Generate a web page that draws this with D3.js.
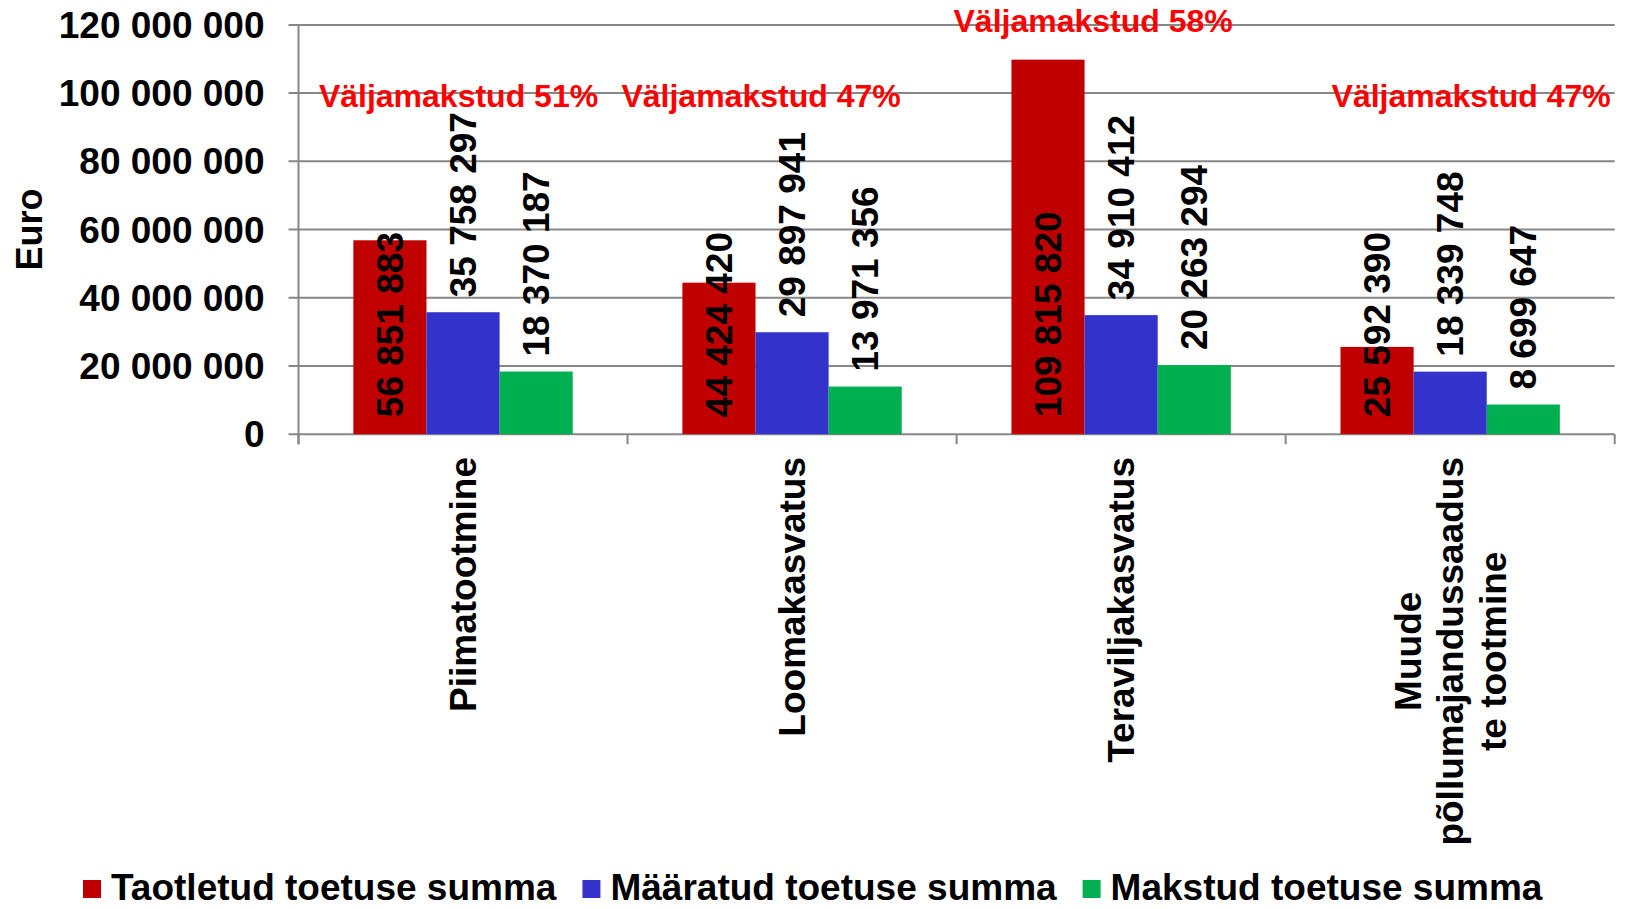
<!DOCTYPE html>
<html lang="et">

<head>
  <meta charset="UTF-8">
  <title>Toetuste summad</title>
  <script src="https://d3js.org/d3.v7.min.js"></script>
  <style>
    body { margin: 0; background: #fff; }
    text { font-family: "Liberation Sans", Arial, sans-serif; font-weight: bold; }
  </style>
</head>

<body>
  <script>
    // data
    const categories = ["Piimatootmine", "Loomakasvatus", "Teraviljakasvatus", "Muude põllumajandussaaduste tootmine"];
    const categoryLines = [["Piimatootmine"], ["Loomakasvatus"], ["Teraviljakasvatus"], ["Muude", "põllumajandussaadus", "te tootmine"]];
    const series = ["Taotletud toetuse summa", "Määratud toetuse summa", "Makstud toetuse summa"];
    const requested = [56851883, 44424420, 109815820, 25592390];
    const assigned = [35758297, 29897941, 34910412, 18339748];
    const paid = [18370187, 13971356, 20263294, 8699647];
    const paidShare = ["51%", "47%", "58%", "47%"];
    const yTicks = [0, 20000000, 40000000, 60000000, 80000000, 100000000, 120000000];
    const colors = ["#C00000", "#3333CC", "#00B050"];

    // layout of the red notes (text boxes in the original)
    const noteDx = [-4.5, -31, -28, 21];
    const noteY = [107, 107, 32, 107];
    // data label position per series
    const labelPos = ["base", "end", "end"];

    const w = 1625, h = 909;
    const plotLeft = 298.5, plotRight = 1614.7, plotTop = 24.9, plotBottom = 434.2;
    const gridColor = "#878787";

    const values = [requested, assigned, paid];
    const rows = categories.map((c, i) => ({ cat: c, vals: values.map((v, s) => ({ s: s, v: v[i] })) }));
    const fmt = v => d3.format(",")(v).replace(/,/g, " ");

    const x0 = d3.scaleBand().domain(categories).range([plotLeft, plotRight]).padding(0);
    const x1 = d3.scaleBand().domain(d3.range(series.length)).range([0, x0.bandwidth()])
      .paddingInner(0).paddingOuter(0.75);
    const y = d3.scaleLinear().domain([0, 120000000]).range([plotBottom, plotTop]);

    const svg = d3.select("body").append("svg").attr("width", w).attr("height", h);

    // gridlines (extend left as ticks)
    svg.selectAll(".grid").data(yTicks).enter().append("line")
      .attr("x1", plotLeft - 10).attr("x2", plotRight)
      .attr("y1", d => y(d)).attr("y2", d => y(d))
      .attr("stroke", gridColor).attr("stroke-width", 2);

    // y axis spine
    svg.append("line").attr("x1", plotLeft).attr("x2", plotLeft).attr("y1", plotTop).attr("y2", plotBottom + 10)
      .attr("stroke", gridColor).attr("stroke-width", 2);

    // x ticks at category boundaries
    const bounds = categories.map(c => x0(c)).concat([plotRight]);
    svg.selectAll(".xtick").data(bounds).enter().append("line")
      .attr("x1", d => d).attr("x2", d => d).attr("y1", plotBottom).attr("y2", plotBottom + 10)
      .attr("stroke", gridColor).attr("stroke-width", 2);

    // y tick labels
    svg.selectAll(".ylab").data(yTicks).enter().append("text")
      .attr("x", plotLeft - 34).attr("y", d => y(d)).attr("dy", "0.35em")
      .attr("text-anchor", "end").attr("font-size", 37).attr("fill", "#000")
      .text(fmt);

    // y title
    svg.append("text")
      .attr("transform", `translate(29,${(plotTop + plotBottom) / 2}) rotate(-90)`)
      .attr("text-anchor", "middle").attr("dy", "0.35em").attr("font-size", 36)
      .text("Euro");

    // bars
    const groups = svg.selectAll(".grp").data(rows).enter().append("g")
      .attr("transform", d => `translate(${x0(d.cat)},0)`);

    groups.selectAll("rect").data(d => d.vals).enter().append("rect")
      .attr("x", d => x1(d.s)).attr("width", x1.bandwidth())
      .attr("y", d => y(d.v)).attr("height", d => y(0) - y(d.v))
      .attr("fill", d => colors[d.s]);

    // data labels
    groups.selectAll(".lab").data(d => d.vals).enter().append("text")
      .attr("transform", d => {
        const cx = x1(d.s) + x1.bandwidth() / 2;
        const ys = labelPos[d.s] === "base" ? y(0) - 17 : y(d.v) - 15;
        return `translate(${cx},${ys}) rotate(-90)`;
      })
      .attr("dy", "0.35em").attr("font-size", 37).attr("fill", "#000")
      .text(d => fmt(d.v));

    // category labels
    const catG = svg.selectAll(".cat").data(categories).enter().append("g")
      .attr("transform", c => `translate(${x0(c) + x0.bandwidth() / 2},457) rotate(-90)`);
    catG.each(function (c, i) {
      const g = d3.select(this);
      const lines = categoryLines[i];
      const texts = lines.map((l, k) => g.append("text")
        .attr("font-size", 37).attr("text-anchor", "middle").attr("dy", "0.35em")
        .attr("y", (k - (lines.length - 1) / 2) * 42.5)
        .text(l));
      const maxLen = d3.max(texts, t => t.node().getComputedTextLength());
      texts.forEach(t => t.attr("x", -maxLen / 2));
    });

    // red notes
    svg.selectAll(".note").data(categories).enter().append("text")
      .attr("x", (c, i) => x0(c) + x0.bandwidth() / 2 + noteDx[i])
      .attr("y", (c, i) => noteY[i])
      .attr("text-anchor", "middle").attr("font-size", 32).attr("fill", "#FF0000")
      .text((c, i) => "Väljamakstud " + paidShare[i]);

    // legend
    let lx = 83;
    series.forEach((s, i) => {
      svg.append("rect").attr("x", lx).attr("y", 880).attr("width", 18).attr("height", 18)
        .attr("fill", colors[i]);
      const t = svg.append("text").attr("x", lx + 28).attr("y", 900)
        .attr("font-size", 37).text(s);
      lx += 28 + t.node().getComputedTextLength() + 26;
    });
  </script>
</body>

</html>
